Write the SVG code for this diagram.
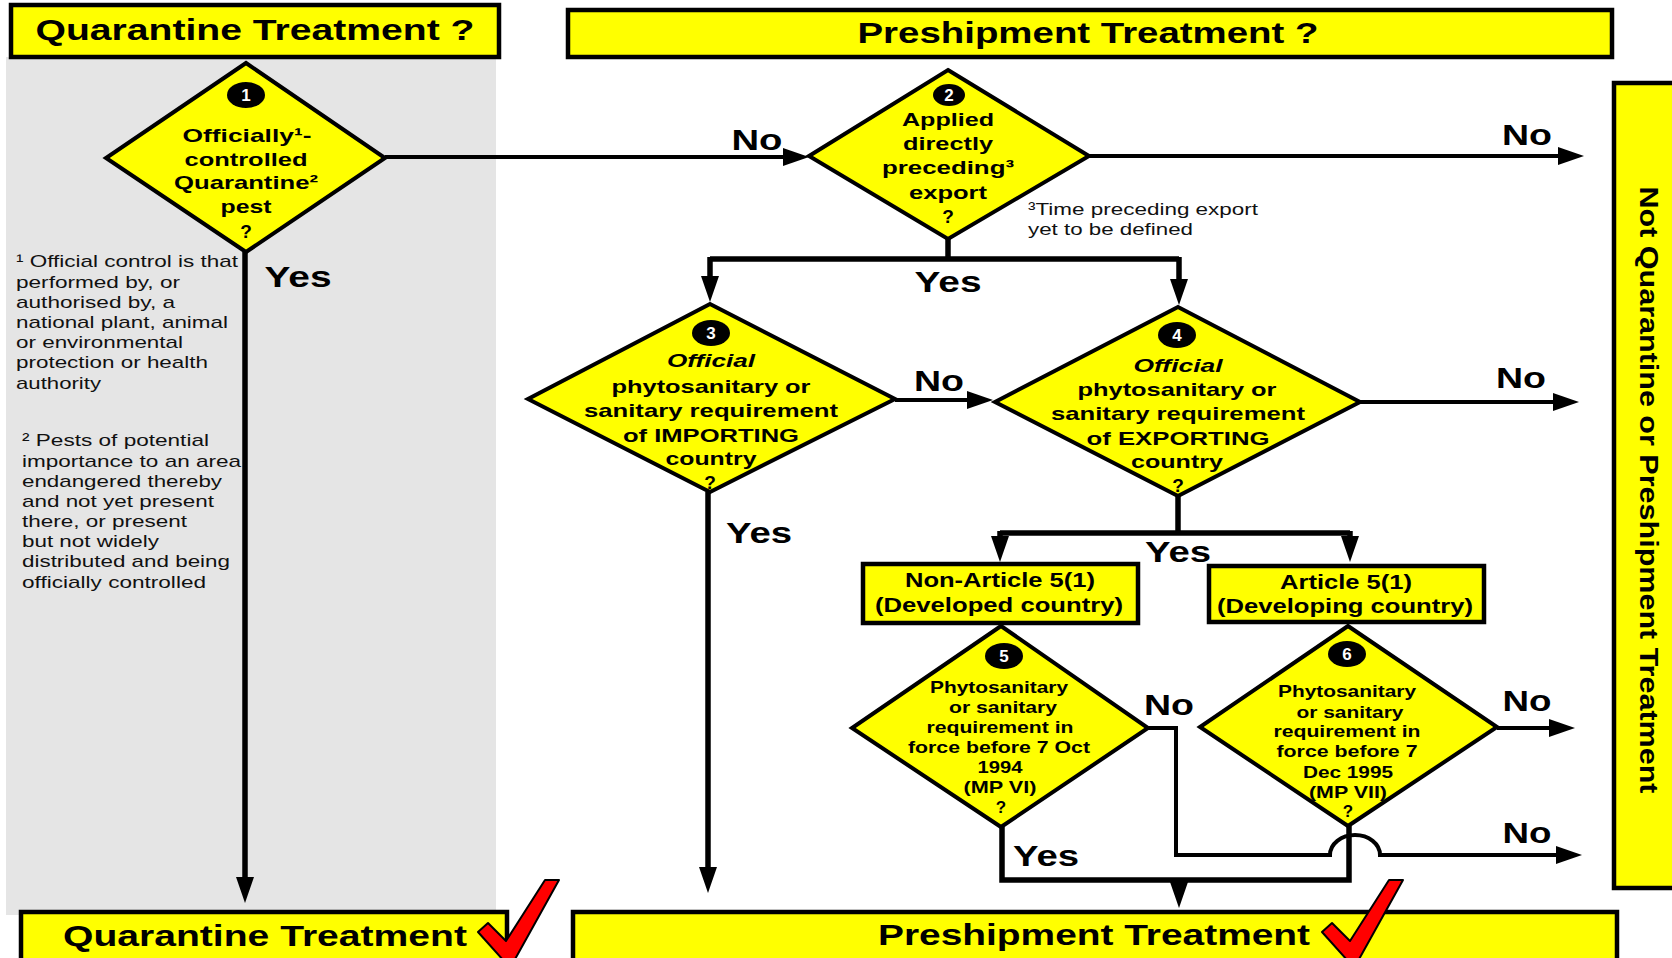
<svg xmlns="http://www.w3.org/2000/svg" width="1672" height="958" viewBox="0 0 1672 958">
<defs>
<style>
.bg{fill:#e5e5e5}
.bx{fill:#ffff00;stroke:#000;stroke-width:4.5}
.dm{fill:#ffff00;stroke:#000;stroke-width:4;stroke-linejoin:miter}
.t{font-family:"Liberation Sans",Arial,sans-serif;font-weight:bold;fill:#000;text-anchor:middle}
.h{font-size:30px}
.q{font-size:19px}
.s{font-size:17px}
.a{font-size:20px}
.l{font-size:29px}
.n{font-size:17px;fill:#fff}
.i{font-style:italic}
.f{font-family:"Liberation Sans",Arial,sans-serif;font-size:17px;fill:#111}
.cn{fill:none;stroke:#000;stroke-width:4;stroke-linejoin:miter}
.yw{stroke-width:5.5}
.ar{marker-end:url(#ah)}
.ck{fill:#ff0000;stroke:#000;stroke-width:2;stroke-linejoin:round}
</style>
<marker id="ah" markerUnits="userSpaceOnUse" markerWidth="26" markerHeight="18" refX="16" refY="9" orient="auto"><path d="M0,0 L26,9 L0,18 Z" fill="#000"/></marker>
<path id="ckp" d="M-31,-26 L-21,-35 L-3,-17 L36,-78 L50,-78 L5,3 L-5,3 Z"/>
</defs>

<rect class="bg" x="6" y="57" width="490" height="858"/>

<g id="connectors">
<path class="cn ar" d="M385,157 H799"/>
<path class="cn ar" d="M1089,156 H1574"/>
<path class="cn yw" d="M948,239 V259"/>
<path class="cn yw" d="M710,259 H1179"/>
<path class="cn yw ar" d="M710,257 V292"/>
<path class="cn yw ar" d="M1179,257 V295"/>
<path class="cn yw ar" d="M245,252 V893"/>
<path class="cn ar" d="M895,400 H983"/>
<path class="cn ar" d="M1360,402 H1569"/>
<path class="cn yw ar" d="M708,492 V883"/>
<path class="cn yw" d="M1178,496 V533"/>
<path class="cn yw" d="M1000,533 H1350"/>
<path class="cn yw ar" d="M1000,531 V552"/>
<path class="cn yw ar" d="M1350,531 V552"/>
<path class="cn ar" d="M1148,728 H1176 V855 H1330 A25,20 0 0 1 1380,855 H1572"/>
<path class="cn ar" d="M1497,728 H1565"/>
<path class="cn yw" d="M1002,827 V880 H1349 V826"/>
<path class="cn yw ar" d="M1179,880 V898"/>
<text class="t l" x="757" y="150" textLength="51" lengthAdjust="spacingAndGlyphs">No</text>
<text class="t l" x="1527" y="145" textLength="50" lengthAdjust="spacingAndGlyphs">No</text>
<text class="t l" x="298" y="287" textLength="67" lengthAdjust="spacingAndGlyphs">Yes</text>
<text class="t l" x="948" y="292" textLength="67" lengthAdjust="spacingAndGlyphs">Yes</text>
<text class="t l" x="939" y="391" textLength="50" lengthAdjust="spacingAndGlyphs">No</text>
<text class="t l" x="1521" y="388" textLength="50" lengthAdjust="spacingAndGlyphs">No</text>
<text class="t l" x="759" y="543" textLength="66" lengthAdjust="spacingAndGlyphs">Yes</text>
<text class="t l" x="1178" y="562" textLength="66" lengthAdjust="spacingAndGlyphs">Yes</text>
<text class="t l" x="1169" y="715" textLength="50" lengthAdjust="spacingAndGlyphs">No</text>
<text class="t l" x="1527" y="711" textLength="49" lengthAdjust="spacingAndGlyphs">No</text>
<text class="t l" x="1527" y="843" textLength="49" lengthAdjust="spacingAndGlyphs">No</text>
<text class="t l" x="1046" y="866" textLength="66" lengthAdjust="spacingAndGlyphs">Yes</text>
</g>

<g id="header-quarantine">
<rect class="bx" x="11" y="5" width="488" height="52"/>
<text class="t h" x="255" y="40" textLength="439" lengthAdjust="spacingAndGlyphs">Quarantine Treatment ?</text>
</g>

<g id="header-preshipment">
<rect class="bx" x="568" y="10" width="1044" height="47"/>
<text class="t h" x="1088" y="43" textLength="461" lengthAdjust="spacingAndGlyphs">Preshipment Treatment ?</text>
</g>

<g id="not-qp">
<rect class="bx" x="1614" y="83" width="80" height="805"/>
<text class="t" style="font-size:26px" transform="translate(1640,490) rotate(90)" x="0" y="0" textLength="607" lengthAdjust="spacingAndGlyphs">Not Quarantine or Preshipment Treatment</text>
</g>

<g id="q1">
<polygon class="dm" points="246,63 385,158 246,252 106,158"/>
<ellipse cx="246" cy="95" rx="19" ry="13"/>
<text class="t n" x="246" y="101">1</text>
<text class="t q" x="247" y="142" textLength="129" lengthAdjust="spacingAndGlyphs">Officially¹-</text>
<text class="t q" x="246" y="166" textLength="123" lengthAdjust="spacingAndGlyphs">controlled</text>
<text class="t q" x="246" y="189" textLength="144" lengthAdjust="spacingAndGlyphs">Quarantine²</text>
<text class="t q" x="246" y="213" textLength="51" lengthAdjust="spacingAndGlyphs">pest</text>
<text class="t q" x="246" y="238">?</text>
</g>

<g id="footnote-1">
<text class="f" x="16" y="267" textLength="222" lengthAdjust="spacingAndGlyphs">¹ Official control is that</text>
<text class="f" x="16" y="288" textLength="164" lengthAdjust="spacingAndGlyphs">performed by, or</text>
<text class="f" x="16" y="308" textLength="159" lengthAdjust="spacingAndGlyphs">authorised by, a</text>
<text class="f" x="16" y="328" textLength="212" lengthAdjust="spacingAndGlyphs">national plant, animal</text>
<text class="f" x="16" y="348" textLength="167" lengthAdjust="spacingAndGlyphs">or environmental</text>
<text class="f" x="16" y="368" textLength="192" lengthAdjust="spacingAndGlyphs">protection or health</text>
<text class="f" x="16" y="389" textLength="85" lengthAdjust="spacingAndGlyphs">authority</text>
</g>

<g id="footnote-2">
<text class="f" x="22" y="446" textLength="187" lengthAdjust="spacingAndGlyphs">² Pests of potential</text>
<text class="f" x="22" y="467" textLength="219" lengthAdjust="spacingAndGlyphs">importance to an area</text>
<text class="f" x="22" y="487" textLength="200" lengthAdjust="spacingAndGlyphs">endangered thereby</text>
<text class="f" x="22" y="507" textLength="192" lengthAdjust="spacingAndGlyphs">and not yet present</text>
<text class="f" x="22" y="527" textLength="165" lengthAdjust="spacingAndGlyphs">there, or present</text>
<text class="f" x="22" y="547" textLength="137" lengthAdjust="spacingAndGlyphs">but not widely</text>
<text class="f" x="22" y="567" textLength="208" lengthAdjust="spacingAndGlyphs">distributed and being</text>
<text class="f" x="22" y="588" textLength="184" lengthAdjust="spacingAndGlyphs">officially controlled</text>
</g>

<g id="q2">
<polygon class="dm" points="948,70 1089,156 948,239 809,156"/>
<ellipse cx="949" cy="95" rx="16" ry="11"/>
<text class="t n" x="949" y="101">2</text>
<text class="t q" x="948" y="126" textLength="92" lengthAdjust="spacingAndGlyphs">Applied</text>
<text class="t q" x="948" y="150" textLength="90" lengthAdjust="spacingAndGlyphs">directly</text>
<text class="t q" x="948" y="174" textLength="132" lengthAdjust="spacingAndGlyphs">preceding³</text>
<text class="t q" x="948" y="199" textLength="78" lengthAdjust="spacingAndGlyphs">export</text>
<text class="t q" x="948" y="223">?</text>
</g>

<g id="footnote-3">
<text class="f" x="1028" y="215" textLength="230" lengthAdjust="spacingAndGlyphs">³Time preceding export</text>
<text class="f" x="1028" y="235" textLength="165" lengthAdjust="spacingAndGlyphs">yet to be defined</text>
</g>

<g id="q3">
<polygon class="dm" points="710,304 895,399 710,492 528,399"/>
<ellipse cx="711" cy="333" rx="19" ry="13"/>
<text class="t n" x="711" y="339">3</text>
<text class="t q i" x="711" y="367" textLength="88" lengthAdjust="spacingAndGlyphs">Official</text>
<text class="t q" x="711" y="393" textLength="199" lengthAdjust="spacingAndGlyphs">phytosanitary or</text>
<text class="t q" x="711" y="417" textLength="254" lengthAdjust="spacingAndGlyphs">sanitary requirement</text>
<text class="t q" x="711" y="442" textLength="176" lengthAdjust="spacingAndGlyphs">of IMPORTING</text>
<text class="t q" x="711" y="465" textLength="91" lengthAdjust="spacingAndGlyphs">country</text>
<text class="t q" x="710" y="489">?</text>
</g>

<g id="q4">
<polygon class="dm" points="1178,307 1360,402 1178,496 995,402"/>
<ellipse cx="1177" cy="335" rx="19" ry="13"/>
<text class="t n" x="1177" y="341">4</text>
<text class="t q i" x="1178" y="372" textLength="89" lengthAdjust="spacingAndGlyphs">Official</text>
<text class="t q" x="1177" y="396" textLength="199" lengthAdjust="spacingAndGlyphs">phytosanitary or</text>
<text class="t q" x="1178" y="420" textLength="254" lengthAdjust="spacingAndGlyphs">sanitary requirement</text>
<text class="t q" x="1178" y="445" textLength="183" lengthAdjust="spacingAndGlyphs">of EXPORTING</text>
<text class="t q" x="1177" y="468" textLength="92" lengthAdjust="spacingAndGlyphs">country</text>
<text class="t q" x="1178" y="492">?</text>
</g>

<g id="non-article5">
<rect class="bx" x="863" y="564" width="275" height="59"/>
<text class="t a" x="1000" y="587" textLength="190" lengthAdjust="spacingAndGlyphs">Non-Article 5(1)</text>
<text class="t a" x="999" y="612" textLength="248" lengthAdjust="spacingAndGlyphs">(Developed country)</text>
</g>

<g id="article5">
<rect class="bx" x="1209" y="566" width="275" height="56"/>
<text class="t a" x="1346" y="589" textLength="132" lengthAdjust="spacingAndGlyphs">Article 5(1)</text>
<text class="t a" x="1345" y="613" textLength="256" lengthAdjust="spacingAndGlyphs">(Developing country)</text>
</g>

<g id="q5">
<polygon class="dm" points="1001,626 1148,728 1001,827 852,728"/>
<ellipse cx="1004" cy="656" rx="19" ry="13"/>
<text class="t n" x="1004" y="662">5</text>
<text class="t s" x="999" y="693" textLength="138" lengthAdjust="spacingAndGlyphs">Phytosanitary</text>
<text class="t s" x="1003" y="713" textLength="108" lengthAdjust="spacingAndGlyphs">or sanitary</text>
<text class="t s" x="1000" y="733" textLength="147" lengthAdjust="spacingAndGlyphs">requirement in</text>
<text class="t s" x="999" y="753" textLength="182" lengthAdjust="spacingAndGlyphs">force before 7 Oct</text>
<text class="t s" x="1000" y="773" textLength="45" lengthAdjust="spacingAndGlyphs">1994</text>
<text class="t s" x="1000" y="793" textLength="73" lengthAdjust="spacingAndGlyphs">(MP VI)</text>
<text class="t s" x="1001" y="813">?</text>
</g>

<g id="q6">
<polygon class="dm" points="1348,626 1497,727 1348,826 1200,727"/>
<ellipse cx="1347" cy="654" rx="19" ry="13"/>
<text class="t n" x="1347" y="660">6</text>
<text class="t s" x="1347" y="697" textLength="138" lengthAdjust="spacingAndGlyphs">Phytosanitary</text>
<text class="t s" x="1350" y="718" textLength="107" lengthAdjust="spacingAndGlyphs">or sanitary</text>
<text class="t s" x="1347" y="737" textLength="147" lengthAdjust="spacingAndGlyphs">requirement in</text>
<text class="t s" x="1347" y="757" textLength="141" lengthAdjust="spacingAndGlyphs">force before 7</text>
<text class="t s" x="1348" y="778" textLength="90" lengthAdjust="spacingAndGlyphs">Dec 1995</text>
<text class="t s" x="1348" y="798" textLength="78" lengthAdjust="spacingAndGlyphs">(MP VII)</text>
<text class="t s" x="1348" y="817">?</text>
</g>

<g id="result-quarantine">
<rect class="bx" x="21" y="912" width="486" height="60"/>
<text class="t h" x="265" y="946" textLength="404" lengthAdjust="spacingAndGlyphs">Quarantine Treatment</text>
<use href="#ckp" class="ck" transform="translate(509,958)"/>
</g>

<g id="result-preshipment">
<rect class="bx" x="573" y="912" width="1044" height="60"/>
<text class="t h" x="1094" y="945" textLength="432" lengthAdjust="spacingAndGlyphs">Preshipment Treatment</text>
<use href="#ckp" class="ck" transform="translate(1353,958)"/>
</g>
</svg>
